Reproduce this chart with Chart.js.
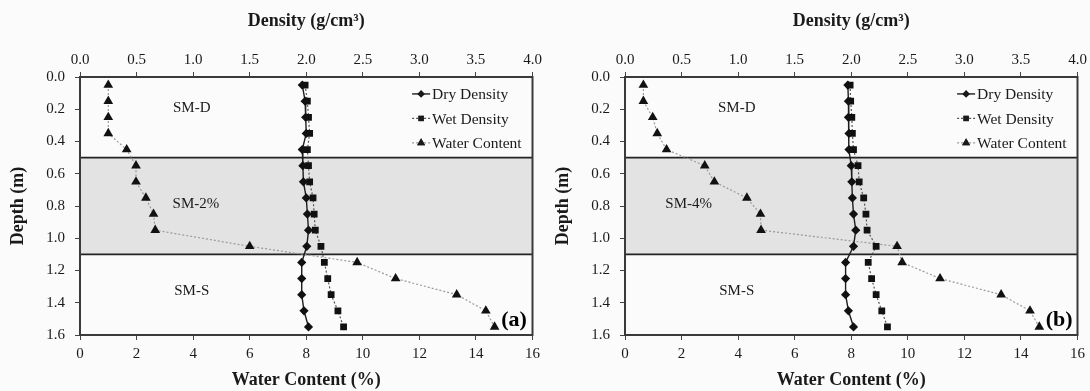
<!DOCTYPE html>
<html>
<head>
<meta charset="utf-8">
<script src="https://cdn.jsdelivr.net/npm/chart.js@4/dist/chart.umd.min.js"></script>
<style>
  html, body { margin: 0; padding: 0; background: #fbfbfb; }
  #wrap { display: flex; width: 1090px; height: 391px; }
  .panel { position: relative; width: 545px; height: 391px; }
</style>
</head>
<body>
<div id="wrap">
  <div class="panel"><canvas id="chartA"></canvas></div>
  <div class="panel"><canvas id="chartB"></canvas></div>
</div>
<script>
// depth of each sample (m)
const depth = [0.05, 0.15, 0.25, 0.35, 0.45, 0.55, 0.65, 0.75, 0.85, 0.95, 1.05, 1.15, 1.25, 1.35, 1.45, 1.55];

// panel (a) SM-2%
const dryA   = [1.965, 1.99, 1.995, 2.0, 1.965, 1.97, 1.975, 2.0, 2.01, 2.02, 2.005, 1.96, 1.96, 1.96, 1.98, 2.02];
const wetA   = [1.99, 2.01, 2.02, 2.03, 2.01, 2.02, 2.03, 2.06, 2.07, 2.08, 2.13, 2.16, 2.19, 2.22, 2.28, 2.33];
const waterA = [1.0, 1.0, 1.0, 1.0, 1.65, 1.98, 1.98, 2.33, 2.6, 2.66, 6.0, 9.8, 11.16, 13.32, 14.35, 14.66];

// panel (b) SM-4%
const dryB   = [1.97, 1.975, 1.975, 1.98, 1.98, 2.0, 2.005, 2.01, 2.02, 2.04, 2.02, 1.95, 1.95, 1.95, 1.975, 2.02];
const wetB   = [1.99, 1.995, 2.005, 2.01, 2.02, 2.06, 2.07, 2.11, 2.13, 2.14, 2.22, 2.15, 2.18, 2.22, 2.27, 2.32];
const waterB = [0.65, 0.65, 0.98, 1.14, 1.47, 2.82, 3.16, 4.31, 4.79, 4.81, 9.62, 9.8, 11.14, 13.3, 14.32, 14.65];

// soil layers: [top, bottom, label]
const layers = [[0, 0.5, 'SM-D'], [0.5, 1.1, null], [1.1, 1.6, 'SM-S']];
const seriesNames = ['Dry Density', 'Wet Density', 'Water Content'];

const serif = "'Liberation Serif', 'Times New Roman', serif";
const ink = '#1a1a1a';

const toPoints = (xs) => xs.map((v, i) => ({ x: v, y: depth[i] }));

// gray band, layer lines, region text
const layerPlugin = {
    id: 'layers',
    beforeDatasetsDraw(chart, args, opts) {
        const { ctx, chartArea: a, scales } = chart;
        const y = scales.y;
        ctx.save();
        ctx.fillStyle = '#e3e3e3';
        ctx.fillRect(a.left, y.getPixelForValue(layers[1][0]), a.right - a.left,
            y.getPixelForValue(layers[1][1]) - y.getPixelForValue(layers[1][0]));
        ctx.strokeStyle = '#222';
        ctx.lineWidth = 1.6;
        [layers[1][0], layers[1][1]].forEach(d => {
            const py = y.getPixelForValue(d);
            ctx.beginPath();
            ctx.moveTo(a.left, py);
            ctx.lineTo(a.right, py);
            ctx.stroke();
        });
        ctx.fillStyle = ink;
        ctx.font = '15px ' + serif;
        ctx.textAlign = 'center';
        ctx.textBaseline = 'middle';
        opts.labels.forEach(l => {
            ctx.fillText(l.text, scales.x.getPixelForValue(l.x), y.getPixelForValue(l.y));
        });
        ctx.restore();
    },
    afterDraw(chart, args, opts) {
        const { ctx, chartArea: a, scales } = chart;
        ctx.save();
        // frame
        ctx.strokeStyle = '#3a3a3a';
        ctx.lineWidth = 2;
        ctx.strokeRect(a.left, a.top, a.right - a.left, a.bottom - a.top);
        // panel tag
        ctx.fillStyle = '#000';
        ctx.font = 'bold 22px ' + serif;
        ctx.textAlign = 'center';
        ctx.textBaseline = 'middle';
        ctx.fillText(opts.tag, scales.x.getPixelForValue(15.35), scales.y.getPixelForValue(1.51));
        // legend
        ctx.font = '15.5px ' + serif;
        ctx.textAlign = 'left';
        const lx = scales.x.getPixelForValue(12.45);
        chart.data.datasets.forEach((ds, i) => {
            const py = scales.y.getPixelForValue(0.105 + i * 0.152);
            ctx.strokeStyle = ds.borderColor;
            ctx.lineWidth = ds.borderWidth;
            ctx.setLineDash(ds.borderDash || []);
            ctx.beginPath();
            ctx.moveTo(lx - 20, py);
            ctx.lineTo(lx - 2, py);
            ctx.stroke();
            ctx.setLineDash([]);
            Chart.helpers.drawPoint(ctx, {
                pointStyle: ds.pointStyle, radius: ds.pointRadius - 1, borderWidth: 0
            }, lx - 11, py);
            ctx.fillStyle = ink;
            ctx.fill();
            ctx.fillText(ds.label, lx, py + 1);
        });
        ctx.restore();
    }
};

function makeChart(id, dry, wet, water, midLabel, midX, tag, labelsX) {
    const tickFont = { family: serif, size: 15 };
    const titleFont = { family: serif, size: 18, weight: 'bold' };
    return new Chart(document.getElementById(id), {
        type: 'scatter',
        data: {
            datasets: [
                {
                    label: seriesNames[0], data: toPoints(dry), xAxisID: 'x2', showLine: true,
                    borderColor: '#1e1e1e', borderWidth: 1.4, backgroundColor: '#111',
                    pointStyle: 'rectRot', pointRadius: 4.6, pointBorderWidth: 0
                },
                {
                    label: seriesNames[1], data: toPoints(wet), xAxisID: 'x2', showLine: true,
                    borderColor: '#555', borderWidth: 1.2, borderDash: [2, 2], backgroundColor: '#111',
                    pointStyle: 'rect', pointRadius: 4.8, pointBorderWidth: 0
                },
                {
                    label: seriesNames[2], data: toPoints(water), xAxisID: 'x', showLine: true,
                    borderColor: '#9a9a9a', borderWidth: 1.2, borderDash: [2, 2], backgroundColor: '#111',
                    pointStyle: 'triangle', pointRadius: 5.6, pointBorderWidth: 0
                }
            ]
        },
        options: {
            responsive: false,
            animation: false,
            events: [],
            layout: { padding: { right: 12 } },
            plugins: {
                legend: { display: false },
                tooltip: { enabled: false },
                layers: {
                    tag: tag,
                    labels: [
                        { text: layers[0][2], x: labelsX, y: 0.19 },
                        { text: midLabel, x: midX, y: 0.79 },
                        { text: layers[2][2], x: labelsX, y: 1.33 }
                    ]
                }
            },
            scales: {
                x: {
                    type: 'linear', position: 'bottom', min: 0, max: 16,
                    ticks: { stepSize: 2, color: ink, font: tickFont, padding: 5 },
                    grid: { drawOnChartArea: false, color: '#444', tickLength: 5 },
                    border: { color: '#3a3a3a', width: 2 },
                    title: { display: true, text: 'Water Content (%)', color: ink, font: titleFont, padding: { top: 0, bottom: 0 } },
                    afterFit: (s) => { s.height = 56; }
                },
                x2: {
                    type: 'linear', position: 'top', min: 0, max: 4,
                    ticks: { stepSize: 0.5, color: ink, font: tickFont, padding: 3, callback: v => v.toFixed(1) },
                    grid: { drawOnChartArea: false, color: '#444', tickLength: 5 },
                    border: { color: '#3a3a3a', width: 2 },
                    title: { display: true, text: 'Density (g/cm³)', color: ink, font: titleFont, padding: { top: 11, bottom: 0 } },
                    afterFit: (s) => { s.height = 77; }
                },
                y: {
                    type: 'linear', reverse: true, min: 0, max: 1.6,
                    ticks: { stepSize: 0.2, color: ink, font: tickFont, padding: 10, callback: v => v.toFixed(1) },
                    grid: { drawOnChartArea: false, color: '#444', tickLength: 5 },
                    border: { color: '#3a3a3a', width: 2 },
                    title: { display: true, text: 'Depth (m)', color: ink, font: titleFont, padding: { top: 7.5, bottom: 0 } },
                    afterFit: (s) => { s.width = 80; }
                }
            }
        },
        plugins: [layerPlugin]
    });
}

for (const id of ['chartA', 'chartB']) {
    const c = document.getElementById(id);
    c.width = 545; c.height = 391;
    c.style.width = '545px'; c.style.height = '391px';
}

makeChart('chartA', dryA, wetA, waterA, 'SM-2%', 4.1, '(a)', 3.95);
makeChart('chartB', dryB, wetB, waterB, 'SM-4%', 2.25, '(b)', 3.95);
</script>
</body>
</html>
